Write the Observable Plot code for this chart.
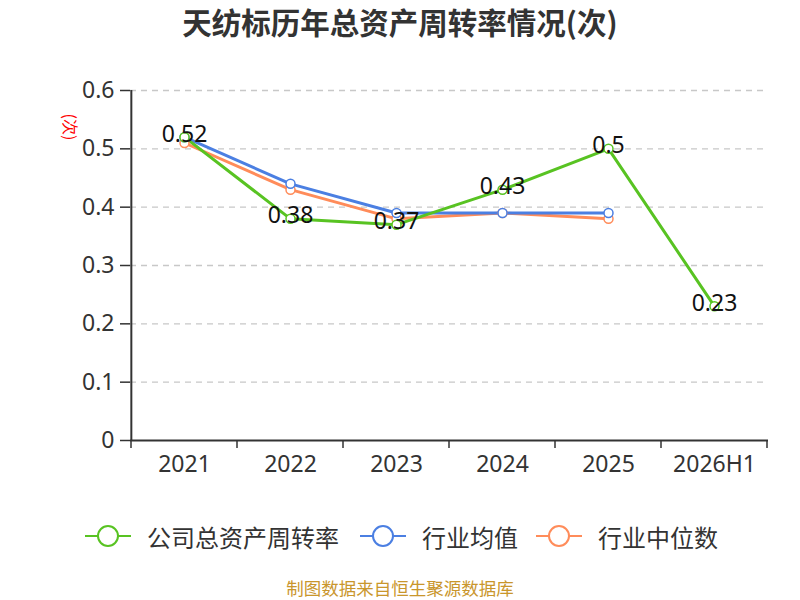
<!DOCTYPE html>
<html><head><meta charset="utf-8">
<script src="https://cdn.jsdelivr.net/npm/d3@7"></script>
<script src="https://cdn.jsdelivr.net/npm/@observablehq/plot@0.6"></script>
<style>
body{margin:0;width:800px;height:600px;background:#fff;font-family:"Noto Sans CJK SC","Noto Sans",sans-serif;overflow:hidden;position:relative}
#title{height:60px;text-align:center;font-size:29.5px;font-weight:bold;color:#333;line-height:42px}
#legend{position:absolute;top:516px;left:0;width:800px;height:40px}
.li{position:absolute;top:0;display:flex;align-items:center;font-size:24px;color:#333;height:40px}
#cap{position:absolute;top:578px;width:800px;height:20px;line-height:20px;text-align:center;font-size:17.5px;color:#c9962c}
#ylab{position:absolute;left:58px;top:115px;color:red;font-size:16px;transform:rotate(90deg);transform-origin:center}
</style></head><body>
<div id="title">天纺标历年总资产周转率情况(次)</div>
<div id="chart"></div>
<div id="ylab">(次)</div>
<div id="legend"></div>
<div id="cap">制图数据来自恒生聚源数据库</div>
<script>
const years = ["2021","2022","2023","2024","2025","2026H1"];
const company = [0.52,0.38,0.37,0.43,0.5,0.23];
const industryMean = [0.52,0.44,0.39,0.39,0.39,null];
const industryMedian = [0.51,0.43,0.38,0.39,0.38,null];
const yTicks = [0,0.1,0.2,0.3,0.4,0.5,0.6];
const seriesNames = ["公司总资产周转率","行业均值","行业中位数"];
const colors = ["#58c322","#4b7fe2","#ff8c5a"];

const rows = (vals, name) => years.map((y,i)=>({year:y, value:vals[i], s:name}));
const sets = [rows(company,seriesNames[0]), rows(industryMean,seriesNames[1]), rows(industryMedian,seriesNames[2])];

const marks = [
  Plot.gridY(yTicks.slice(1), {stroke:"#c8c8c8", strokeOpacity:1, strokeDasharray:"6,5", strokeWidth:1.3}),
  Plot.axisY(yTicks, {tickSize:10, fontSize:23, fill:"#333", stroke:"#333", strokeWidth:1.5, tickPadding:6, tickFormat:d=>String(d), label:null}),
  Plot.axisX({tickSize:0, fontSize:23, fill:"#333", tickPadding:15, label:null}),
  Plot.ruleX([years[0]], {stroke:"#333", strokeWidth:2, dx:-(800-130-32)/6/2})
];
[2,1,0].forEach(k=>{
  const d = sets[k].filter(r=>r.value!=null);
  marks.push(Plot.line(d,{x:"year",y:"value",stroke:colors[k],strokeWidth:3}));
});
[2,1,0].forEach(k=>{
  const d = sets[k].filter(r=>r.value!=null);
  marks.push(Plot.dot(d,{x:"year",y:"value",r:4.5,fill:"white",stroke:colors[k],strokeWidth:1.5}));
});
marks.push(Plot.text(sets[0],{x:"year",y:"value",text:d=>String(d.value),fontSize:23,fill:"#111",dy:-3,fontFamily:"Noto Sans, sans-serif"}));
marks.push(Plot.ruleY([0],{stroke:"#333",strokeWidth:2}));

const plot = Plot.plot({
  width:800, height:440,
  marginTop:30, marginBottom:60, marginLeft:130, marginRight:32,
  style:{fontFamily:"Noto Sans, sans-serif", background:"transparent", overflow:"visible"},
  x:{type:"band", domain:years, padding:0},
  y:{domain:[0,0.6]},
  marks
});
document.getElementById("chart").appendChild(plot);

const xs = plot.scale("x");
const bw = xs.bandwidth;
const svg = d3.select(plot);
const y0 = plot.scale("y").apply(0);
const bounds = years.map(y=>xs.apply(y)).concat([xs.apply(years[years.length-1])+bw]);
svg.append("g").selectAll("line").data(bounds).join("line")
  .attr("x1",d=>d).attr("x2",d=>d).attr("y1",y0).attr("y2",y0+8)
  .attr("stroke","#333").attr("stroke-width",1.5);

const lg = document.getElementById("legend");
const lx = [85,360,536];
seriesNames.forEach((n,i)=>{
  const div = document.createElement("div");
  div.className="li"; div.style.left=lx[i]+"px";
  div.innerHTML = `<svg width="46" height="30" style="margin-right:16px"><line x1="0" x2="46" y1="15" y2="15" stroke="${colors[i]}" stroke-width="2"/><circle cx="23" cy="15" r="10" fill="white" stroke="${colors[i]}" stroke-width="2"/></svg><span>${n}</span>`;
  lg.appendChild(div);
});
</script>
</body></html>
